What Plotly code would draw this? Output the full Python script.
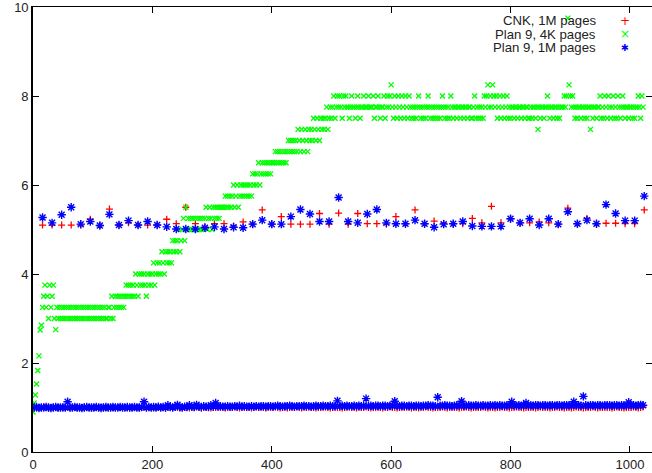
import plotly.graph_objects as go

# ---------------- data ----------------
series_names = ["CNK, 1M pages", "Plan 9, 4K pages", "Plan 9, 1M pages"]
series_colors = ["#ff0000", "#00ff00", "#0000ff"]

# Plan 9, 4K pages : one value every 2 pages (0 .. 1022)
pages_4k = list(range(0, 1024, 2))
plan9_4k = [
    0.9, 1.1, 1.28, 1.53, 1.83, 2.16, 2.74, 2.85, 3.25, 3.5, 3.75, 3.25, 3.5, 3, 3.75, 3.25,
    3.5, 3.75, 3, 2.75, 3.25, 3, 3.25, 3, 3.25, 3, 3.25, 3, 3.25, 3, 3.25, 3,
    3.25, 3, 3.25, 3, 3.25, 3, 3.25, 3, 3.25, 3, 3.25, 3, 3.25, 3, 3.25, 3,
    3.25, 3, 3.25, 3, 3.25, 3, 3.25, 3, 3.25, 3, 3.25, 3, 3.25, 3, 3, 3.25,
    3.25, 3, 3.5, 3, 3.25, 3.5, 3.25, 3.5, 3.25, 3.5, 3.25, 3.5, 3.25, 3.5, 3.75, 3.5,
    3.75, 3.5, 3.75, 3.5, 3.75, 3.5, 4, 3.75, 3.5, 4, 3.75, 4, 3.75, 4, 3.75, 3.5,
    4, 3.75, 4, 3.75, 4, 4.25, 3.75, 4, 4.25, 4, 4.25, 4, 4.5, 4.25, 4, 4.5,
    4.25, 4.5, 4.25, 4.5, 4.25, 4.75, 4.5, 4.75, 4.5, 4.75, 5, 4.5, 4.75, 5, 5.25, 4.75,
    5.5, 5, 5.25, 5, 5.25, 5, 5.25, 5, 5.25, 5, 5.25, 5, 5.25, 5, 5.25, 5,
    5.25, 5.5, 5, 5.25, 5.5, 5.25, 5, 5.5, 5.25, 5.5, 5.25, 5.5, 5.25, 5.5, 5.5, 5.5,
    5.5, 5.75, 5.5, 5.75, 5.5, 5.75, 5.5, 5.75, 6, 5.5, 5.75, 6, 5.5, 5.75, 6, 5.75,
    6, 5.75, 6, 5.75, 6, 5.75, 6, 5.75, 6.25, 6, 6.25, 6, 6.25, 6.5, 6, 6.25,
    6.5, 6.25, 6.5, 6.25, 6.5, 6.25, 6.5, 6.25, 6.5, 6.5, 6.5, 6.75, 6.5, 6.75, 6.5, 6.75,
    6.5, 6.75, 6.5, 6.75, 6.5, 6.75, 7, 6.75, 7, 6.75, 7, 6.75, 7, 6.75, 7.25, 7,
    6.75, 7.25, 7, 6.75, 7.25, 7, 6.75, 7.25, 7, 7.25, 7, 7.5, 7.25, 7, 7.5, 7.25,
    7, 7.5, 7.25, 7.5, 7.25, 7.5, 7.75, 7.25, 7.5, 7.75, 7.5, 7.75, 8, 7.5, 7.75, 8,
    7.75, 8, 7.75, 7.5, 8, 7.75, 8, 7.75, 7.75, 7.5, 7.75, 8, 7.75, 7.75, 7.5, 7.75,
    8, 7.75, 7.5, 7.75, 7.75, 8, 7.75, 7.75, 7.75, 8, 7.75, 7.75, 7.75, 8, 7.5, 7.75,
    7.75, 8, 7.75, 7.5, 7.75, 7.75, 8, 7.5, 7.75, 8, 7.75, 8, 8.25, 7.75, 7.5, 8,
    7.75, 7.5, 8, 7.75, 7.5, 8, 7.75, 7.5, 8, 7.75, 7.5, 8, 7.75, 7.5, 7.75, 7.5,
    7.75, 7.5, 7.75, 8, 7.75, 7.5, 7.75, 7.5, 7.75, 7.5, 7.75, 8, 7.75, 7.5, 7.75, 7.5,
    7.75, 7.5, 7.75, 7.5, 7.75, 7.5, 7.75, 8, 7.75, 7.5, 7.75, 7.5, 7.75, 7.5, 8, 7.75,
    7.5, 7.75, 7.75, 7.5, 7.75, 7.75, 7.5, 7.75, 7.75, 7.5, 7.75, 7.75, 7.5, 7.75, 7.75, 7.5,
    7.5, 7.75, 8, 7.5, 7.75, 7.5, 7.75, 7.5, 7.75, 7.5, 8, 7.75, 8, 8.25, 7.75, 8,
    7.75, 8.25, 8, 7.75, 8, 7.5, 7.75, 8, 7.5, 7.75, 8, 7.5, 7.75, 8, 7.5, 7.75,
    7.5, 7.75, 7.75, 7.5, 7.75, 7.75, 7.5, 7.75, 7.75, 7.5, 7.75, 7.75, 7.5, 7.75, 7.75, 7.5,
    7.5, 7.75, 7.5, 7.75, 7.75, 7.5, 7.75, 7.25, 7.75, 7.5, 7.75, 7.75, 7.5, 7.75, 7.75, 8,
    7.75, 7.5, 7.75, 7.75, 7.5, 7.75, 7.75, 7.5, 7.75, 7.5, 7.75, 7.75, 7.75, 8, 7.75, 8,
    9.75, 8.25, 8, 7.75, 8, 7.75, 7.5, 7.75, 7.5, 7.75, 7.75, 7.5, 7.75, 7.75, 7.5, 7.75,
    7.5, 7.75, 7.75, 7.25, 7.75, 7.5, 7.75, 7.75, 7.5, 7.75, 7.75, 8, 7.5, 7.75, 7.5, 8,
    7.75, 7.5, 8, 7.75, 7.5, 7.75, 8, 7.5, 7.75, 7.5, 8, 7.75, 7.5, 7.75, 8, 7.75,
    7.5, 7.75, 7.75, 7.5, 7.75, 7.75, 7.5, 7.75, 7.5, 7.75, 7.75, 8, 7.75, 7.5, 8, 7.75,
]

# 1M-page runs: baseline samples every 4 pages (2, 6, ..., 1022)
pages_base = list(range(2, 1024, 4))
cnk_base = [
    1.0, 0.99, 1.0, 1.0, 1.01, 1.0, 0.99, 1.0, 1.0, 1.0, 0.99, 1.0, 1.01, 1.0, 1.0, 0.99,
    1.0, 1.0, 0.99, 1.0, 1.0, 1.01, 1.0, 1.0, 0.99, 1.0, 1.0, 1.0, 1.01, 1.0, 0.99, 1.0,
    1.0, 0.99, 1.0, 1.0, 1.0, 1.01, 1.0, 0.99, 1.0, 1.0, 1.0, 1.0, 0.99, 1.0, 1.01, 1.0,
    1.0, 1.0, 0.99, 1.0, 1.01, 1.0, 1.0, 0.99, 1.0, 1.0, 1.0, 1.01, 1.0, 0.99, 1.0, 1.0,
    1.0, 0.99, 1.0, 1.0, 1.01, 1.0, 0.99, 1.0, 1.0, 1.0, 0.99, 1.0, 1.0, 1.01, 1.0, 1.0,
    0.99, 1.0, 1.0, 1.0, 1.01, 1.0, 0.99, 1.0, 1.0, 1.0, 1.0, 0.99, 1.0, 1.01, 1.0, 1.0,
    1.0, 0.99, 1.0, 1.0, 1.0, 1.01, 1.0, 0.99, 1.0, 1.0, 0.99, 1.0, 1.0, 1.0, 1.01, 1.0,
    0.99, 1.0, 1.0, 1.01, 1.0, 1.0, 0.99, 1.0, 1.0, 1.0, 1.01, 1.0, 0.99, 1.0, 1.0, 1.0,
    1.0, 0.99, 1.0, 1.0, 1.01, 1.0, 1.0, 0.99, 1.0, 1.0, 1.0, 1.01, 1.0, 0.99, 1.0, 1.0,
    1.0, 1.0, 0.99, 1.0, 1.0, 1.01, 1.0, 1.0, 0.99, 1.0, 1.0, 1.0, 1.01, 1.0, 0.99, 1.0,
    1.0, 0.99, 1.0, 1.0, 1.01, 1.0, 1.0, 0.99, 1.0, 1.0, 1.0, 1.01, 1.0, 0.99, 1.0, 1.0,
    1.0, 1.0, 0.99, 1.0, 1.0, 1.01, 1.0, 0.99, 1.0, 1.0, 1.0, 1.0, 1.01, 1.0, 0.99, 1.0,
    1.0, 0.99, 1.0, 1.0, 1.01, 1.0, 1.0, 0.99, 1.0, 1.0, 1.01, 1.0, 1.0, 0.99, 1.0, 1.0,
    1.0, 1.0, 0.99, 1.0, 1.01, 1.0, 1.0, 1.0, 0.99, 1.0, 1.0, 1.01, 1.0, 1.0, 0.99, 1.0,
    1.0, 0.99, 1.0, 1.01, 1.0, 1.0, 0.99, 1.0, 1.0, 1.0, 1.01, 1.0, 0.99, 1.0, 1.0, 1.0,
    1.0, 1.0, 0.99, 1.0, 1.01, 1.0, 1.0, 0.99, 1.0, 1.0, 1.0, 1.01, 1.0, 0.99, 1.0, 1.01,
]
plan9_1m_base = [
    1.0, 1.01, 0.99, 1.0, 1.0, 1.01, 1.0, 0.99, 1.0, 1.01, 1.0, 1.0, 1.0, 1.0, 1.13, 1.0,
    1.0, 1.01, 1.0, 1.0, 0.99, 1.0, 1.01, 1.0, 1.0, 1.0, 1.01, 1.0, 0.99, 1.0, 1.01, 1.0,
    1.0, 1.01, 1.0, 1.0, 1.01, 1.0, 1.0, 1.01, 1.0, 1.0, 1.01, 1.0, 1.0, 1.01, 1.13, 1.0,
    1.01, 1.0, 1.01, 1.0, 1.02, 1.0, 1.01, 1.0, 1.05, 1.01, 1.0, 1.02, 1.06, 1.01, 1.0, 1.02,
    1.01, 1.05, 1.02, 1.01, 1.06, 1.02, 1.01, 1.03, 1.02, 1.01, 1.05, 1.02, 1.1, 1.02, 1.03, 1.02,
    1.02, 1.03, 1.02, 1.02, 1.03, 1.02, 1.04, 1.02, 1.03, 1.02, 1.02, 1.03, 1.02, 1.03, 1.02, 1.03,
    1.03, 1.02, 1.03, 1.03, 1.02, 1.03, 1.04, 1.03, 1.02, 1.03, 1.03, 1.04, 1.03, 1.02, 1.03, 1.03,
    1.03, 1.04, 1.03, 1.03, 1.02, 1.03, 1.04, 1.03, 1.03, 1.04, 1.03, 1.03, 1.04, 1.03, 1.03, 1.15,
    1.03, 1.04, 1.03, 1.04, 1.03, 1.03, 1.04, 1.03, 1.04, 1.03, 1.04, 1.2, 1.03, 1.04, 1.03, 1.04,
    1.04, 1.03, 1.04, 1.04, 1.03, 1.04, 1.04, 1.14, 1.04, 1.03, 1.04, 1.04, 1.03, 1.04, 1.04, 1.03,
    1.04, 1.04, 1.03, 1.04, 1.04, 1.05, 1.04, 1.04, 1.03, 1.23, 1.04, 1.04, 1.05, 1.04, 1.04, 1.03,
    1.04, 1.05, 1.04, 1.14, 1.04, 1.04, 1.05, 1.04, 1.04, 1.05, 1.04, 1.04, 1.05, 1.04, 1.04, 1.05,
    1.04, 1.05, 1.04, 1.05, 1.04, 1.04, 1.05, 1.04, 1.13, 1.05, 1.04, 1.05, 1.04, 1.05, 1.1, 1.04,
    1.05, 1.04, 1.05, 1.05, 1.04, 1.05, 1.05, 1.04, 1.05, 1.05, 1.04, 1.05, 1.05, 1.04, 1.05, 1.05,
    1.05, 1.04, 1.13, 1.05, 1.05, 1.04, 1.25, 1.05, 1.04, 1.05, 1.05, 1.04, 1.05, 1.05, 1.04, 1.05,
    1.05, 1.05, 1.04, 1.05, 1.05, 1.04, 1.05, 1.05, 1.04, 1.12, 1.05, 1.05, 1.04, 1.05, 1.06, 1.05,
]

# 1M-page runs: every 16th page is slow (16, 32, ..., 1024)
pages_peak = list(range(16, 1025, 16))
cnk_peak = [
    5.10, 5.10, 5.10, 5.10, 5.10, 5.23, 5.09, 5.46, 5.10, 5.15, 5.10, 5.10, 5.10, 5.23, 5.13, 5.50,
    5.13, 5.06, 5.13, 5.13, 5.08, 5.17, 5.12, 5.44, 5.12, 5.29, 5.12, 5.12, 5.12, 5.36, 5.12, 5.37,
    5.12, 5.36, 5.13, 5.13, 5.12, 5.29, 5.13, 5.44, 5.13, 5.19, 5.14, 5.13, 5.13, 5.25, 5.15, 5.52,
    5.15, 5.24, 5.15, 5.15, 5.17, 5.15, 5.12, 5.48, 5.13, 5.25, 5.13, 5.14, 5.14, 5.13, 5.13, 5.44,
]
plan9_1m_peak = [
    5.27, 5.15, 5.33, 5.50, 5.12, 5.18, 5.09, 5.34, 5.10, 5.20, 5.10, 5.18, 5.10, 5.06, 5.01, 5.01,
    5.01, 5.04, 5.06, 5.01, 5.05, 5.04, 5.12, 5.21, 5.12, 5.12, 5.29, 5.45, 5.35, 5.18, 5.18, 5.72,
    5.18, 5.15, 5.35, 5.45, 5.15, 5.13, 5.13, 5.21, 5.13, 5.05, 5.12, 5.13, 5.18, 5.08, 5.07, 5.07,
    5.07, 5.24, 5.15, 5.24, 5.10, 5.24, 5.12, 5.40, 5.13, 5.21, 5.13, 5.56, 5.36, 5.20, 5.20, 5.75,
]

x_ticks = [0, 200, 400, 600, 800, 1000]
y_ticks = [0, 2, 4, 6, 8, 10]

# ---------------- figure ----------------
FONT = "Liberation Sans, Arial, Helvetica, sans-serif"
fig = go.Figure()

fig.add_trace(go.Scatter(
    x=pages_base + pages_peak, y=cnk_base + cnk_peak, mode="markers",
    name=series_names[0], showlegend=False,
    marker=dict(symbol="cross-thin-open", size=5, color=series_colors[0],
                line=dict(width=1.3, color=series_colors[0])),
))
fig.add_trace(go.Scatter(
    x=pages_4k, y=plan9_4k, mode="markers",
    name=series_names[1], showlegend=False,
    marker=dict(symbol="x-thin-open", size=5, color=series_colors[1],
                line=dict(width=1.4, color=series_colors[1])),
))
fig.add_trace(go.Scatter(
    x=pages_base + pages_peak, y=plan9_1m_base + plan9_1m_peak, mode="markers",
    name=series_names[2], showlegend=False,
    marker=dict(symbol="asterisk-open", size=7, color=series_colors[2],
                line=dict(width=1.4, color=series_colors[2])),
))

# gnuplot-style key: right-aligned text, sample to the right
key_rows = [0.9692, 0.9393, 0.9085]
key_marks = ["+", "\u00d7", "\u2731"]
key_sizes = [12, 12, 9.5]
for name, color, yy, mk, ms in zip(series_names, series_colors, key_rows, key_marks, key_sizes):
    fig.add_annotation(xref="paper", yref="paper", x=0.911, y=yy, xanchor="right",
                       yanchor="middle", text=name, showarrow=False, borderpad=0,
                       font=dict(family=FONT, size=13.2, color="#222222"))
    fig.add_annotation(xref="paper", yref="paper", x=0.956, y=yy, xanchor="center",
                       yanchor="middle", text=mk, showarrow=False, borderpad=0,
                       font=dict(family="DejaVu Sans", size=ms, color=color))

axis_common = dict(showgrid=False, zeroline=False, showline=True, linecolor="#000000",
                   ticks="inside", ticklen=6, tickcolor="#000000", mirror="ticks",
                   automargin=False, ticklabeloverflow="allow",
                   tickfont=dict(family=FONT, size=13, color="#222222"))
fig.update_xaxes(range=[0, 1037], tickvals=x_ticks, linewidth=1, **axis_common)
fig.update_yaxes(range=[0, 10], tickvals=y_ticks, linewidth=1.6, **axis_common)

fig.update_layout(
    width=652, height=473,
    margin=dict(l=33, r=0, t=7, b=21),
    plot_bgcolor="#ffffff", paper_bgcolor="#ffffff",
    font=dict(family=FONT, size=13, color="#222222"),
)

fig.write_html("out.html", config={"displayModeBar": False},
               post_script="document.body.style.margin='0';document.body.style.overflow='hidden';")
